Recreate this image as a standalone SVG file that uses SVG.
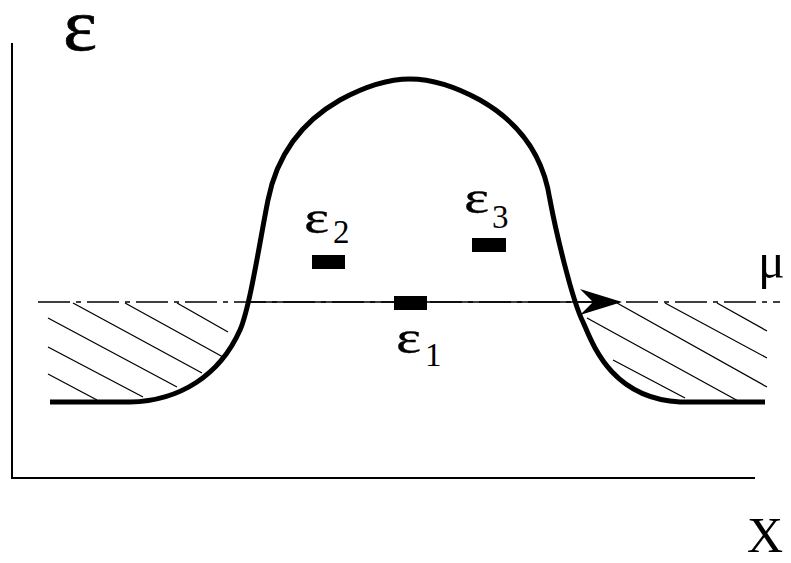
<svg xmlns="http://www.w3.org/2000/svg" width="791" height="563" viewBox="0 0 791 563">
<style>
.t{font-family:"Liberation Serif","Times New Roman",serif;fill:#000}
.h{stroke:#000;stroke-width:1.3;fill:none}
.bar{fill:#000}
</style>
<rect width="791" height="563" fill="#fff"/>
<g id="axes" fill="none" stroke="#000" stroke-width="2">
<path d="M12,43 L12,478 L755,478"/>
</g>
<g id="hatching" class="h">
<path d="M48,318 L177,387 M48,347 L143,397 M48,374 L97,400 M73,303 L202,373 M125,303 L223,357 M177,303 L228,332"/>
<path d="M587,318 L740,402 M613,360 L685,398 M617,303 L767,387 M665,303 L767,358 M717,303 L767,331"/>
</g>
<g id="connectors">
<path d="M38,302 L780,302" stroke="#000" stroke-width="1.5" stroke-dasharray="32 6 5 6" fill="none"/>
<path d="M248,302 L595,302" stroke="#000" stroke-width="1.6" fill="none"/>
<path d="M622,302 L580,289 L593,302 L580,315 Z" fill="#000"/>
</g>
<g id="curve">
<path d="M50,402 L130,402 C180,401 220,375 240,330 C250,307 260,240 268,200 C276,160 296,125 340,100 C362,88 385,79 410,79 C435,79 458,88 480,100 C524,125 544,160 550,200 C556,232 572,300 583,322 C592,342 610,398 680,402 L765,402" fill="none" stroke="#000" stroke-width="5"/>
</g>
<g id="level1"><rect class="bar" x="394" y="296" width="33" height="14"/></g>
<g id="level2"><rect class="bar" x="312" y="255" width="33" height="14"/></g>
<g id="level3"><rect class="bar" x="472" y="238" width="34" height="14"/></g>
<g id="labels">
<text class="t" transform="translate(63,50) scale(1.1,1)" font-size="74" stroke="#000" stroke-width="0.6">ε</text>
<text class="t" transform="translate(304,233) scale(1.3,1)" font-size="46" stroke="#000" stroke-width="0.3">ε</text>
<text class="t" x="333" y="243" font-size="33">2</text>
<text class="t" transform="translate(464,213) scale(1.3,1)" font-size="46" stroke="#000" stroke-width="0.3">ε</text>
<text class="t" x="492" y="228" font-size="33">3</text>
<text class="t" transform="translate(396,353) scale(1.3,1)" font-size="46" stroke="#000" stroke-width="0.3">ε</text>
<text class="t" x="425" y="366" font-size="33">1</text>
<text class="t" x="758" y="278" font-size="50">μ</text>
<text class="t" x="747" y="552" font-size="50">X</text>
</g>
</svg>
